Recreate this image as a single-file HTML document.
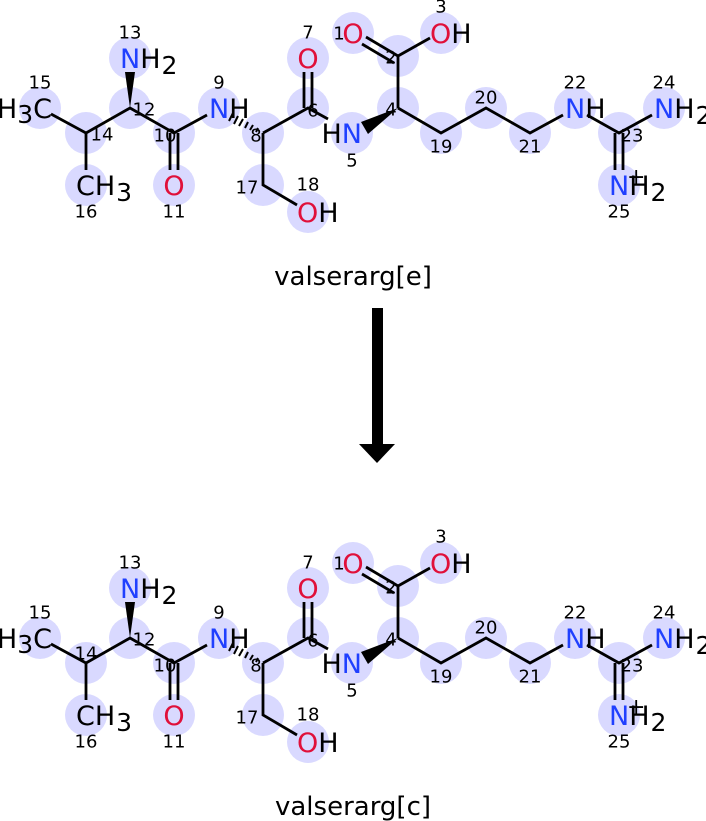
<!DOCTYPE html>
<html><head><meta charset="utf-8"><style>
html,body{margin:0;padding:0;background:#fff;}
svg{display:block;}
.a{font-family:"DejaVu Sans","Liberation Sans",sans-serif;font-size:27px;}
.i{font-family:"DejaVu Sans","Liberation Sans",sans-serif;font-size:18px;text-anchor:middle;fill:#000;}
.N{fill:#2040ff}.O{fill:#e0103a}.K{fill:#000}
.b{stroke:#000;stroke-width:2.8;fill:none;stroke-linecap:butt}
.c{fill:#d9d9ff}
</style></head><body>
<svg width="706" height="821" viewBox="0 0 706 821" xmlns="http://www.w3.org/2000/svg">
<g>
<g class="c">
<circle cx="40" cy="108" r="21"/><circle cx="86" cy="133" r="21"/><circle cx="130" cy="108" r="21"/><circle cx="130" cy="58" r="21"/>
<circle cx="174" cy="133" r="21"/><circle cx="174" cy="185" r="21"/><circle cx="219" cy="108" r="21"/><circle cx="263" cy="133" r="21"/>
<circle cx="263" cy="185" r="21"/><circle cx="308" cy="212" r="21"/><circle cx="308" cy="108" r="21"/><circle cx="308" cy="58" r="21"/>
<circle cx="352" cy="133" r="21"/><circle cx="398" cy="108" r="21"/><circle cx="398" cy="56" r="21"/><circle cx="353" cy="33" r="21"/>
<circle cx="441" cy="33" r="21"/><circle cx="441" cy="133" r="21"/><circle cx="486" cy="108" r="21"/><circle cx="530" cy="133" r="21"/>
<circle cx="575" cy="108" r="21"/><circle cx="619" cy="133" r="21"/><circle cx="664" cy="108" r="21"/><circle cx="619" cy="185" r="21"/>
<circle cx="86" cy="185" r="21"/>
</g>
<g class="b">
<path d="M51 114 L86 133 L130 108 L174 133 L207 115"/>
<path d="M86 133 V170"/>
<path d="M170 133 V170 M178 133 V170"/>
<path d="M263 133 L308 108 L328 119"/>
<path d="M263 133 V185 L297 205"/>
<path d="M304 108 V72 M312 108 V72"/>
<path d="M398 108 V56 L430 38"/>
<path d="M398 56 L366 37 M394 63 L362 44"/>
<path d="M398 108 L441 133 L486 108 L530 133 L563 115"/>
<path d="M587 115 L619 133 L652 115"/>
<path d="M615 133 V170 M623 133 V170"/>
</g>
<polygon points="130,108 125,72 135,72" fill="#000"/>
<polygon points="398,108 368,134 361,122" fill="#000"/>
<g stroke="#000" stroke-width="2">
<path d="M258 128 L256 132 M253 125 L250 130 M248 122 L245 128 M243 119 L239 126 M238 116 L234 124 M233 113 L229 121"/>
</g>
<g class="a">
<text x="52" y="118" text-anchor="end" class="K">H<tspan font-size="25" dy="5">3</tspan><tspan dy="-5">C</tspan></text>
<text x="120" y="68"><tspan class="N">N</tspan><tspan class="K">H</tspan><tspan class="K" font-size="25" dy="6" dx="1">2</tspan></text>
<text x="209" y="118"><tspan class="N">N</tspan><tspan class="K">H</tspan></text>
<text x="174" y="195" text-anchor="middle" class="O">O</text>
<text x="308" y="68" text-anchor="middle" class="O">O</text>
<text x="297" y="222"><tspan class="O">O</tspan><tspan class="K">H</tspan></text>
<text x="362" y="143" text-anchor="end"><tspan class="K">H</tspan><tspan class="N">N</tspan></text>
<text x="353" y="43" text-anchor="middle" class="O">O</text>
<text x="430" y="43"><tspan class="O">O</tspan><tspan class="K">H</tspan></text>
<text x="565" y="118"><tspan class="N">N</tspan><tspan class="K">H</tspan></text>
<text x="654" y="118"><tspan class="N">N</tspan><tspan class="K">H</tspan><tspan class="K" font-size="25" dy="6" dx="1">2</tspan></text>
<text x="609" y="195"><tspan class="N">N</tspan><tspan class="K">H</tspan><tspan class="K" font-size="25" dy="6" dx="1">2</tspan></text>
<text x="627" y="184" class="K" font-size="22">+</text>
<text x="76" y="195"><tspan class="K">CH</tspan><tspan class="K" font-size="25" dy="6" dx="1">3</tspan></text>
</g>
<g class="i" dominant-baseline="central">
<text x="130" y="33">13</text><text x="40" y="83">15</text><text x="219" y="83">9</text><text x="308" y="33">7</text>
<text x="339" y="34">1</text><text x="441" y="7">3</text><text x="391" y="58">2</text><text x="144" y="110">12</text>
<text x="102" y="135">14</text><text x="165" y="136">10</text><text x="86" y="212">16</text><text x="174" y="212">11</text>
<text x="256" y="136">8</text><text x="247" y="188">17</text><text x="308" y="185">18</text><text x="313" y="111">6</text>
<text x="352" y="161">5</text><text x="391" y="110">4</text><text x="441" y="147">19</text><text x="486" y="98">20</text>
<text x="530" y="147">21</text><text x="575" y="83">22</text><text x="664" y="83">24</text><text x="632" y="136">23</text>
<text x="619" y="212">25</text>
</g>
</g>

<g transform="translate(0,530)">
<g class="c">
<circle cx="40" cy="108" r="21"/><circle cx="86" cy="133" r="21"/><circle cx="130" cy="108" r="21"/><circle cx="130" cy="58" r="21"/>
<circle cx="174" cy="133" r="21"/><circle cx="174" cy="185" r="21"/><circle cx="219" cy="108" r="21"/><circle cx="263" cy="133" r="21"/>
<circle cx="263" cy="185" r="21"/><circle cx="308" cy="212" r="21"/><circle cx="308" cy="108" r="21"/><circle cx="308" cy="58" r="21"/>
<circle cx="352" cy="133" r="21"/><circle cx="398" cy="108" r="21"/><circle cx="398" cy="56" r="21"/><circle cx="353" cy="33" r="21"/>
<circle cx="441" cy="33" r="21"/><circle cx="441" cy="133" r="21"/><circle cx="486" cy="108" r="21"/><circle cx="530" cy="133" r="21"/>
<circle cx="575" cy="108" r="21"/><circle cx="619" cy="133" r="21"/><circle cx="664" cy="108" r="21"/><circle cx="619" cy="185" r="21"/>
<circle cx="86" cy="185" r="21"/>
</g>
<g class="b">
<path d="M51 114 L86 133 L130 108 L174 133 L207 115"/>
<path d="M86 133 V170"/>
<path d="M170 133 V170 M178 133 V170"/>
<path d="M263 133 L308 108 L328 119"/>
<path d="M263 133 V185 L297 205"/>
<path d="M304 108 V72 M312 108 V72"/>
<path d="M398 108 V56 L430 38"/>
<path d="M398 56 L366 37 M394 63 L362 44"/>
<path d="M398 108 L441 133 L486 108 L530 133 L563 115"/>
<path d="M587 115 L619 133 L652 115"/>
<path d="M615 133 V170 M623 133 V170"/>
</g>
<polygon points="130,108 125,72 135,72" fill="#000"/>
<polygon points="398,108 368,134 361,122" fill="#000"/>
<g stroke="#000" stroke-width="2">
<path d="M258 128 L256 132 M253 125 L250 130 M248 122 L245 128 M243 119 L239 126 M238 116 L234 124 M233 113 L229 121"/>
</g>
<g class="a">
<text x="52" y="118" text-anchor="end" class="K">H<tspan font-size="25" dy="5">3</tspan><tspan dy="-5">C</tspan></text>
<text x="120" y="68"><tspan class="N">N</tspan><tspan class="K">H</tspan><tspan class="K" font-size="25" dy="6" dx="1">2</tspan></text>
<text x="209" y="118"><tspan class="N">N</tspan><tspan class="K">H</tspan></text>
<text x="174" y="195" text-anchor="middle" class="O">O</text>
<text x="308" y="68" text-anchor="middle" class="O">O</text>
<text x="297" y="222"><tspan class="O">O</tspan><tspan class="K">H</tspan></text>
<text x="362" y="143" text-anchor="end"><tspan class="K">H</tspan><tspan class="N">N</tspan></text>
<text x="353" y="43" text-anchor="middle" class="O">O</text>
<text x="430" y="43"><tspan class="O">O</tspan><tspan class="K">H</tspan></text>
<text x="565" y="118"><tspan class="N">N</tspan><tspan class="K">H</tspan></text>
<text x="654" y="118"><tspan class="N">N</tspan><tspan class="K">H</tspan><tspan class="K" font-size="25" dy="6" dx="1">2</tspan></text>
<text x="609" y="195"><tspan class="N">N</tspan><tspan class="K">H</tspan><tspan class="K" font-size="25" dy="6" dx="1">2</tspan></text>
<text x="627" y="184" class="K" font-size="22">+</text>
<text x="76" y="195"><tspan class="K">CH</tspan><tspan class="K" font-size="25" dy="6" dx="1">3</tspan></text>
</g>
<g class="i" dominant-baseline="central">
<text x="130" y="33">13</text><text x="40" y="83">15</text><text x="219" y="83">9</text><text x="308" y="33">7</text>
<text x="339" y="34">1</text><text x="441" y="7">3</text><text x="391" y="58">2</text><text x="144" y="110">12</text>
<text x="86" y="124">14</text><text x="165" y="136">10</text><text x="86" y="212">16</text><text x="174" y="212">11</text>
<text x="256" y="136">8</text><text x="247" y="188">17</text><text x="308" y="185">18</text><text x="313" y="111">6</text>
<text x="352" y="161">5</text><text x="391" y="110">4</text><text x="441" y="147">19</text><text x="486" y="98">20</text>
<text x="530" y="147">21</text><text x="575" y="83">22</text><text x="664" y="83">24</text><text x="632" y="136">23</text>
<text x="619" y="212">25</text>
</g>
</g>

<text x="353" y="285" text-anchor="middle" font-family="DejaVu Sans, Liberation Sans, sans-serif" font-size="26" fill="#000">valserarg[e]</text>
<text x="353" y="815" text-anchor="middle" font-family="DejaVu Sans, Liberation Sans, sans-serif" font-size="26" fill="#000">valserarg[c]</text>
<rect x="372" y="308" width="11" height="137" fill="#000"/>
<polygon points="359,444 395,444 377,463" fill="#000"/>
</svg>
</body></html>
